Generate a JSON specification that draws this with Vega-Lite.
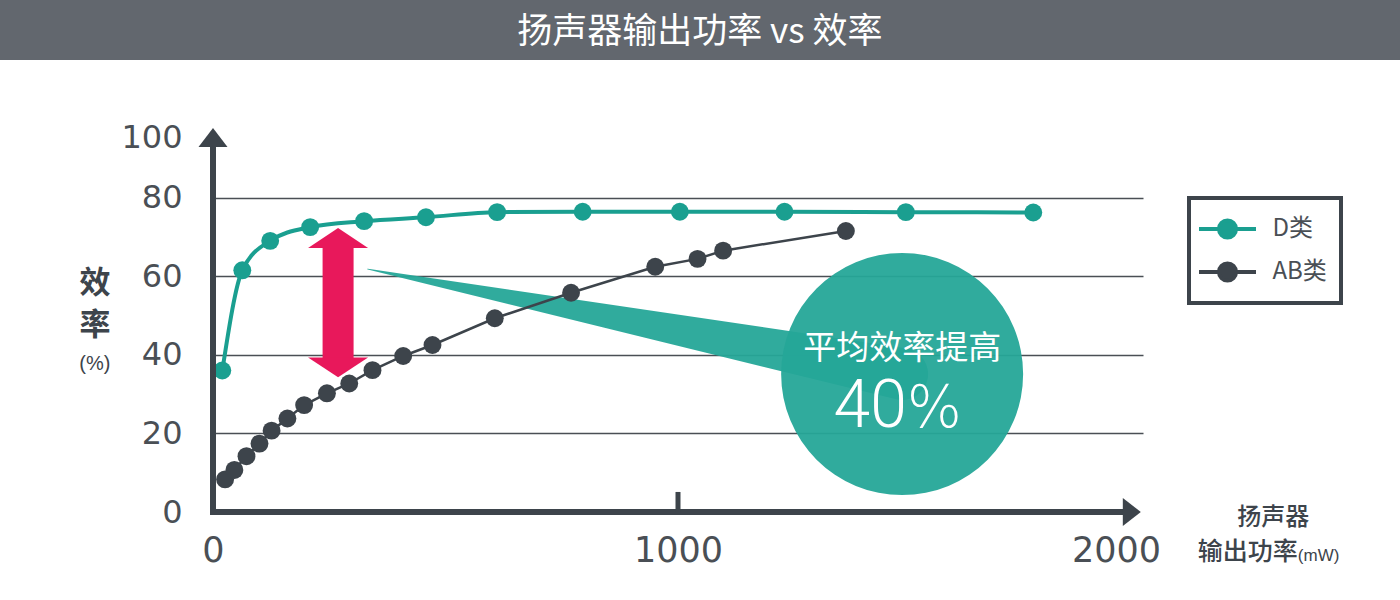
{
  "$schema": "https://vega.github.io/schema/vega-lite/v6.json",
  "width": 930,
  "height": 393,
  "autosize": "none",
  "padding": {"left": 213, "top": 119, "right": 257, "bottom": 88},
  "background": "white",
  "config": {"view": {"stroke": null}, "font": "Liberation Sans", "legend": {"strokeColor": "#3d444b", "strokeWidth": 4}},
  "datasets": {
    "eff": [
      {"series": "D类", "power": 20, "eff": 36},
      {"series": "D类", "power": 63, "eff": 61.5},
      {"series": "D类", "power": 123, "eff": 69},
      {"series": "D类", "power": 209, "eff": 72.5},
      {"series": "D类", "power": 325, "eff": 74},
      {"series": "D类", "power": 458, "eff": 75},
      {"series": "D类", "power": 611, "eff": 76.3},
      {"series": "D类", "power": 795, "eff": 76.4},
      {"series": "D类", "power": 1004, "eff": 76.4},
      {"series": "D类", "power": 1229, "eff": 76.4},
      {"series": "D类", "power": 1490, "eff": 76.3},
      {"series": "D类", "power": 1764, "eff": 76.2},
      {"series": "AB类", "power": 26, "eff": 8.3},
      {"series": "AB类", "power": 46, "eff": 10.7},
      {"series": "AB类", "power": 72, "eff": 14.2},
      {"series": "AB类", "power": 100, "eff": 17.4},
      {"series": "AB类", "power": 126, "eff": 20.7},
      {"series": "AB类", "power": 160, "eff": 23.8},
      {"series": "AB类", "power": 196, "eff": 27.2},
      {"series": "AB类", "power": 245, "eff": 30.2},
      {"series": "AB类", "power": 293, "eff": 32.7},
      {"series": "AB类", "power": 343, "eff": 36.1},
      {"series": "AB类", "power": 409, "eff": 39.7},
      {"series": "AB类", "power": 472, "eff": 42.5},
      {"series": "AB类", "power": 606, "eff": 49.3},
      {"series": "AB类", "power": 770, "eff": 55.8},
      {"series": "AB类", "power": 951, "eff": 62.4},
      {"series": "AB类", "power": 1042, "eff": 64.4},
      {"series": "AB类", "power": 1097, "eff": 66.5},
      {"series": "AB类", "power": 1361, "eff": 71.5}
    ],
    "wedge": [
      {"power": 333, "eff": 61.8, "end": 0},
      {"power": 1482, "eff": 35.1, "end": 1}
    ],
    "one": [{}]
  },
  "layer": [
    {
      "data": {"name": "one"},
      "mark": {"type": "rect", "color": "#62676e"},
      "encoding": {
        "x": {"datum": -470, "type": "quantitative"},
        "x2": {"datum": 2570},
        "y": {"datum": 135, "type": "quantitative"},
        "y2": {"datum": 115}
      }
    },
    {
      "data": {"name": "one"},
      "mark": {"type": "text", "text": "扬声器输出功率 vs 效率", "font": "Noto Sans CJK SC", "fontSize": 35, "fontWeight": "normal", "color": "white", "align": "center", "baseline": "middle"},
      "encoding": {
        "x": {"datum": 1047, "type": "quantitative"},
        "y": {"datum": 122.1, "type": "quantitative"}
      }
    },
    {
      "data": {"name": "eff"},
      "mark": {"type": "point", "opacity": 0},
      "encoding": {
        "x": {"field": "power", "type": "quantitative",
          "scale": {"domain": [0, 2000], "nice": false, "zero": false},
          "axis": {"values": [0, 1000, 2000], "format": "d", "title": null, "domain": false, "ticks": false, "grid": false,
            "labelFlush": false, "labelPadding": 21, "labelFontSize": 35, "labelColor": "#4a4f55", "labelFont": "DejaVu Sans",
            "labelOffset": {"condition": {"test": "datum.value == 2000", "value": -27}, "value": 0}}},
        "y": {"field": "eff", "type": "quantitative",
          "scale": {"domain": [0, 100], "nice": false, "zero": false},
          "axis": {"values": [0, 20, 40, 60, 80, 100], "title": null, "domain": false, "ticks": false,
            "labelFlush": false, "labelPadding": 31, "labelFontSize": 32, "labelColor": "#4a4f55", "labelFont": "DejaVu Sans",
            "grid": true, "gridColor": "#4a4f55", "gridWidth": 1.6,
            "gridOpacity": {"condition": {"test": "datum.value == 0 || datum.value == 100", "value": 0}, "value": 1},
            "labelOffset": {"condition": {"test": "datum.value == 100", "value": 18}, "value": 0}}}
      }
    },
    {
      "data": {"name": "wedge"},
      "mark": {"type": "trail", "color": "#25a698", "opacity": 0.95},
      "encoding": {
        "x": {"field": "power", "type": "quantitative"},
        "y": {"field": "eff", "type": "quantitative"},
        "size": {"field": "end", "type": "quantitative", "scale": {"domain": [0, 1], "range": [0, 52]}, "legend": null}
      }
    },
    {
      "data": {"name": "one"},
      "mark": {"type": "point", "shape": "circle", "filled": true, "color": "#25a698", "opacity": 0.95, "size": 58564},
      "encoding": {
        "x": {"datum": 1482, "type": "quantitative"},
        "y": {"datum": 35.1, "type": "quantitative"}
      }
    },
    {
      "data": {"name": "one"},
      "mark": {"type": "text", "text": "平均效率提高", "font": "Noto Sans CJK SC", "fontSize": 33, "color": "white", "align": "center", "baseline": "middle"},
      "encoding": {
        "x": {"datum": 1482, "type": "quantitative"},
        "y": {"datum": 41.5, "type": "quantitative"}
      }
    },
    {
      "data": {"name": "one"},
      "mark": {"type": "text", "text": "40", "font": "Roboto", "fontWeight": 300, "fontSize": 66, "color": "white", "align": "right", "baseline": "alphabetic"},
      "encoding": {
        "x": {"datum": 1492, "type": "quantitative"},
        "y": {"datum": 21.6, "type": "quantitative"}
      }
    },
    {
      "data": {"name": "one"},
      "mark": {"type": "text", "text": "%", "font": "DejaVu Sans", "fontWeight": 200, "fontSize": 58, "color": "white", "align": "left", "baseline": "alphabetic"},
      "encoding": {
        "x": {"datum": 1492, "type": "quantitative"},
        "y": {"datum": 21.6, "type": "quantitative"}
      }
    },
    {
      "data": {"name": "one"},
      "mark": {"type": "rule", "color": "#e8185b", "strokeWidth": 31, "strokeCap": "butt"},
      "encoding": {
        "x": {"datum": 269, "type": "quantitative"},
        "y": {"datum": 67.6, "type": "quantitative"},
        "y2": {"datum": 39.0}
      }
    },
    {
      "data": {"name": "one"},
      "mark": {"type": "point", "shape": "M-1,0.333L0,-0.333L1,0.333Z", "filled": true, "color": "#e8185b", "opacity": 1, "size": 3600},
      "encoding": {
        "x": {"datum": 269, "type": "quantitative"},
        "y": {"datum": 69.7, "type": "quantitative"}
      }
    },
    {
      "data": {"name": "one"},
      "mark": {"type": "point", "shape": "M-1,-0.333L0,0.333L1,-0.333Z", "filled": true, "color": "#e8185b", "opacity": 1, "size": 3600},
      "encoding": {
        "x": {"datum": 269, "type": "quantitative"},
        "y": {"datum": 36.8, "type": "quantitative"}
      }
    },
    {
      "data": {"name": "eff"},
      "transform": [{"filter": "datum.series == 'AB类'"}],
      "mark": {"type": "line", "strokeWidth": 2.5},
      "encoding": {
        "x": {"field": "power", "type": "quantitative"},
        "y": {"field": "eff", "type": "quantitative"},
        "color": {"field": "series", "type": "nominal", "scale": {"domain": ["D类", "AB类"], "range": ["#1a9f90", "#3d444b"]}}
      }
    },
    {
      "data": {"name": "eff"},
      "transform": [{"filter": "datum.series == 'D类'"}],
      "mark": {"type": "line", "strokeWidth": 4, "interpolate": "monotone"},
      "encoding": {
        "x": {"field": "power", "type": "quantitative"},
        "y": {"field": "eff", "type": "quantitative"},
        "color": {"field": "series", "type": "nominal"}
      }
    },
    {
      "data": {"name": "eff"},
      "mark": {"type": "point", "shape": "circle", "filled": true, "opacity": 1, "size": 320},
      "encoding": {
        "x": {"field": "power", "type": "quantitative"},
        "y": {"field": "eff", "type": "quantitative"},
        "color": {"field": "series", "type": "nominal",
          "legend": {"orient": "none", "legendX": 976, "legendY": 79, "title": null,
            "symbolType": "M-1.9,0L1.9,0M0.57,0A0.57,0.57,0,1,1,-0.57,0A0.57,0.57,0,1,1,0.57,0Z",
            "symbolSize": 900, "symbolOffset": 7.5, "symbolStrokeWidth": 4, "symbolOpacity": 1,
            "labelFontSize": 24, "labelColor": "#4a4f55", "labelFont": "Noto Sans CJK SC", "labelOffset": 28,
            "padding": 14, "rowPadding": 9, "fillColor": "white", "cornerRadius": 0,
            "encode": {"symbols": {"update": {"fill": {"scale": "color", "field": "value"}, "stroke": {"scale": "color", "field": "value"}}}}}}
      }
    },
    {
      "data": {"name": "one"},
      "mark": {"type": "rule", "color": "#3d444b", "strokeWidth": 6, "strokeCap": "square"},
      "encoding": {
        "x": {"datum": 0, "type": "quantitative"},
        "y": {"datum": 0, "type": "quantitative"},
        "y2": {"datum": 93}
      }
    },
    {
      "data": {"name": "one"},
      "mark": {"type": "rule", "color": "#3d444b", "strokeWidth": 6, "strokeCap": "square"},
      "encoding": {
        "x": {"datum": 0, "type": "quantitative"},
        "x2": {"datum": 1965},
        "y": {"datum": 0, "type": "quantitative"}
      }
    },
    {
      "data": {"name": "one"},
      "mark": {"type": "point", "shape": "M-1,0.655L0,-0.655L1,0.655Z", "filled": true, "color": "#3d444b", "opacity": 1, "size": 841},
      "encoding": {
        "x": {"datum": 0, "type": "quantitative"},
        "y": {"datum": 95.3, "type": "quantitative"}
      }
    },
    {
      "data": {"name": "one"},
      "mark": {"type": "point", "shape": "M-0.643,-1L0.643,0L-0.643,1Z", "filled": true, "color": "#3d444b", "opacity": 1, "size": 784},
      "encoding": {
        "x": {"datum": 1976, "type": "quantitative"},
        "y": {"datum": 0, "type": "quantitative"}
      }
    },
    {
      "data": {"name": "one"},
      "mark": {"type": "rule", "color": "#3d444b", "strokeWidth": 5, "strokeCap": "butt"},
      "encoding": {
        "x": {"datum": 1000, "type": "quantitative"},
        "y": {"datum": 0, "type": "quantitative"},
        "y2": {"datum": 5.1}
      }
    },
    {
      "data": {"name": "one"},
      "mark": {"type": "text", "text": "效", "font": "Noto Sans CJK SC", "fontSize": 31, "fontWeight": "bold", "color": "#3d444b", "align": "center", "baseline": "middle"},
      "encoding": {
        "x": {"datum": -254, "type": "quantitative"},
        "y": {"datum": 58.0, "type": "quantitative"}
      }
    },
    {
      "data": {"name": "one"},
      "mark": {"type": "text", "text": "率", "font": "Noto Sans CJK SC", "fontSize": 31, "fontWeight": "bold", "color": "#3d444b", "align": "center", "baseline": "middle"},
      "encoding": {
        "x": {"datum": -254, "type": "quantitative"},
        "y": {"datum": 47.4, "type": "quantitative"}
      }
    },
    {
      "data": {"name": "one"},
      "mark": {"type": "text", "text": "(%)", "font": "Liberation Sans", "fontSize": 20, "color": "#3d444b", "align": "center", "baseline": "middle"},
      "encoding": {
        "x": {"datum": -254, "type": "quantitative"},
        "y": {"datum": 37.6, "type": "quantitative"}
      }
    },
    {
      "data": {"name": "one"},
      "mark": {"type": "text", "text": "扬声器", "font": "Noto Sans CJK SC", "fontSize": 24, "fontWeight": 500, "color": "#3d444b", "align": "center", "baseline": "middle"},
      "encoding": {
        "x": {"datum": 2280, "type": "quantitative"},
        "y": {"datum": -1.4, "type": "quantitative"}
      }
    },
    {
      "data": {"name": "one"},
      "mark": {"type": "text", "text": "输出功率", "font": "Noto Sans CJK SC", "fontSize": 25, "fontWeight": 500, "color": "#3d444b", "align": "left", "baseline": "middle"},
      "encoding": {
        "x": {"datum": 2118, "type": "quantitative"},
        "y": {"datum": -10.3, "type": "quantitative"}
      }
    },
    {
      "data": {"name": "one"},
      "mark": {"type": "text", "text": "(mW)", "font": "Liberation Sans", "fontSize": 17, "color": "#3d444b", "align": "left", "baseline": "middle"},
      "encoding": {
        "x": {"datum": 2333, "type": "quantitative"},
        "y": {"datum": -11.2, "type": "quantitative"}
      }
    }
  ]
}
